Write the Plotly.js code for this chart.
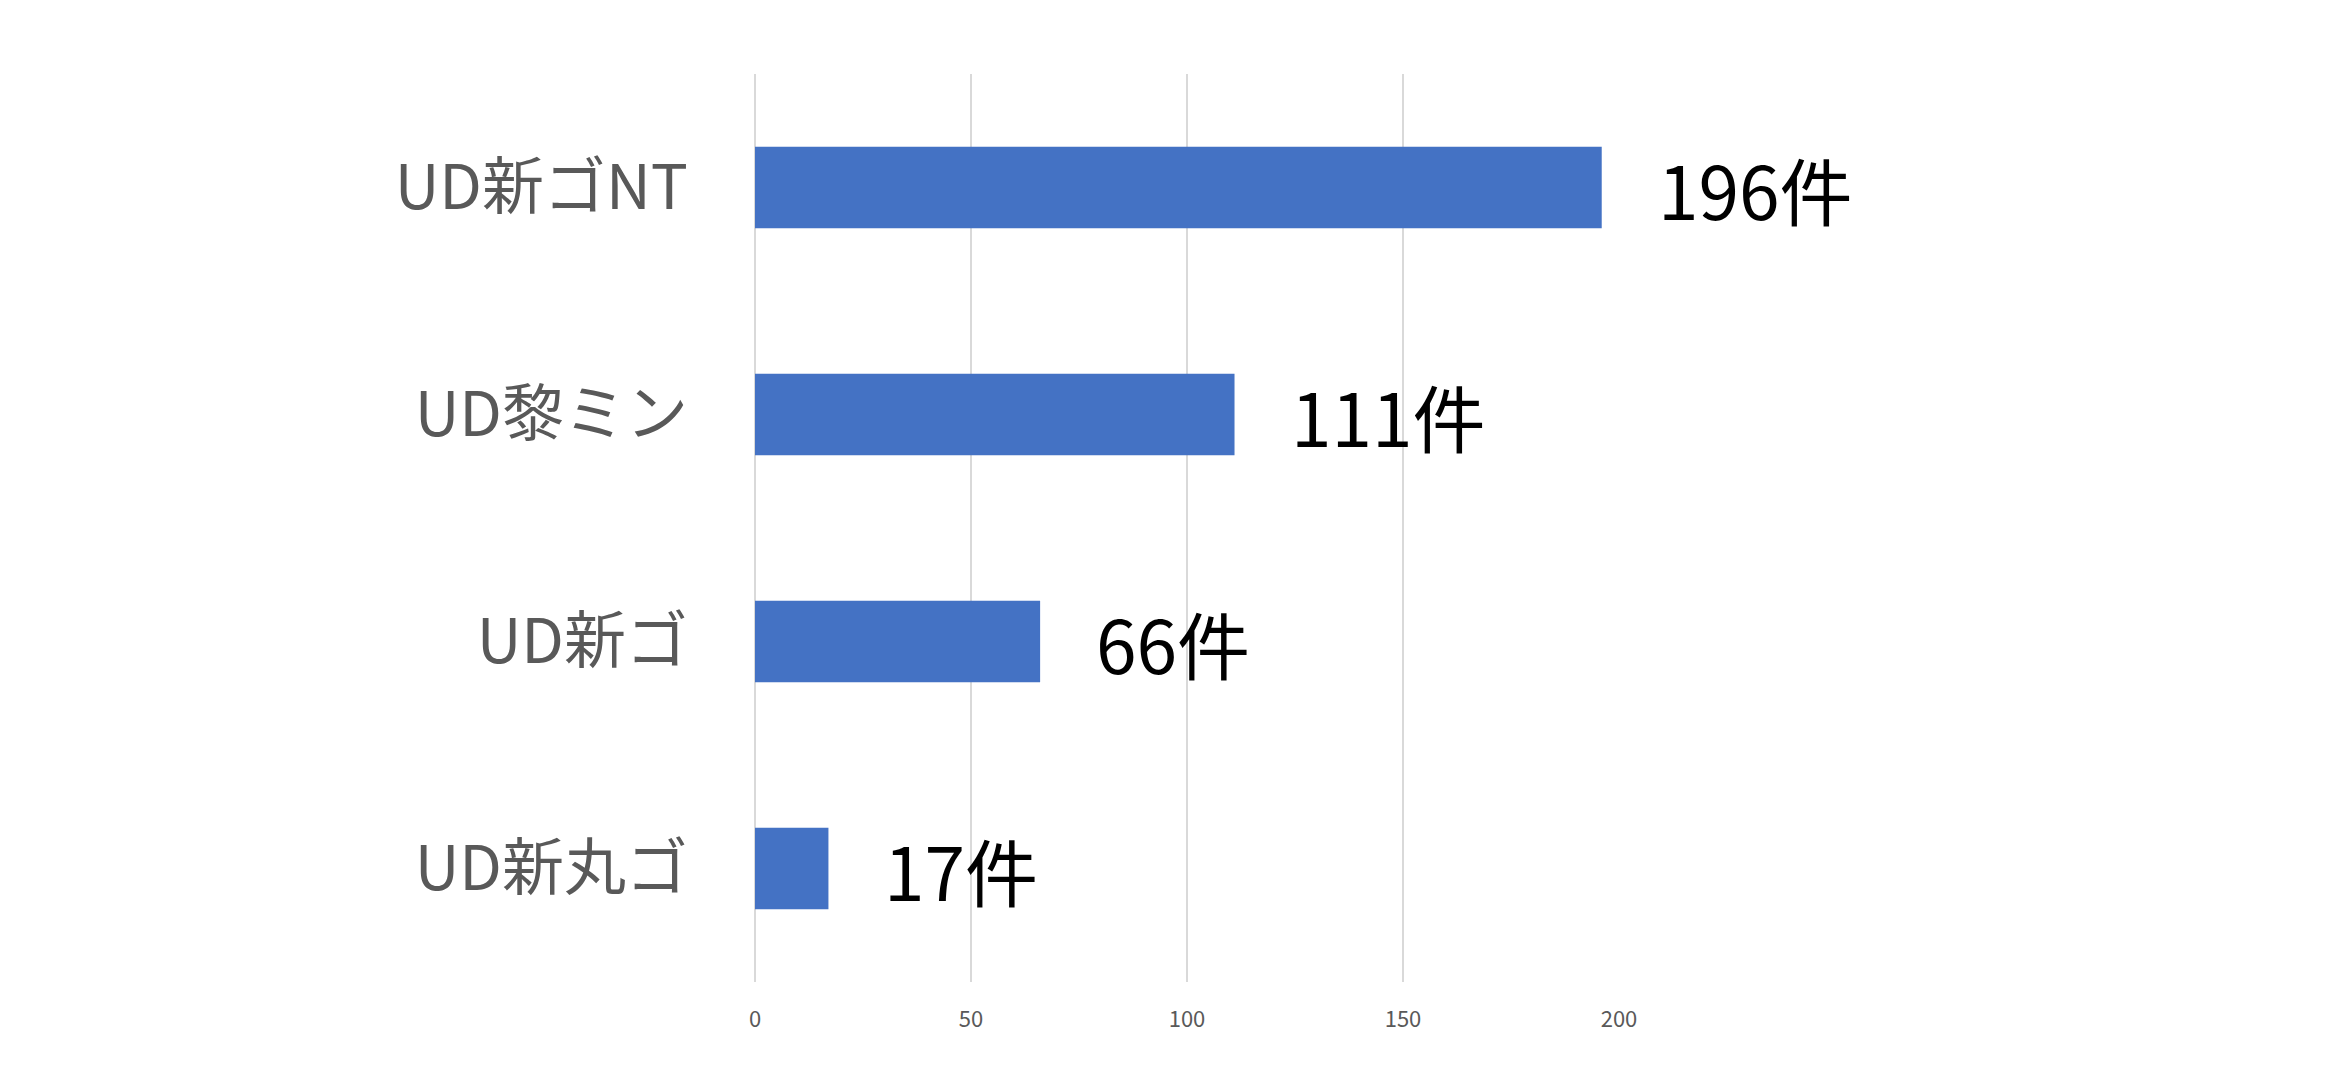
<!DOCTYPE html>
<html>
<head>
<meta charset="utf-8">
<script src="https://cdn.plot.ly/plotly-3.0.1.min.js"></script>
<style>
  html, body { margin: 0; padding: 0; background: #fff; }
  #chart { width: 2327px; height: 1086px; }
</style>
</head>
<body>
<div id="chart"></div>
<script>
var fonts = ['UD新ゴNT', 'UD黎ミン', 'UD新ゴ', 'UD新丸ゴ'];
var counts = [196, 111, 66, 17];
var unit = '件';
var xTicks = [0, 50, 100, 150, 200];

var data = [{
  type: 'bar',
  orientation: 'h',
  x: counts,
  y: fonts,
  marker: {color: '#4472C4'},
  hoverinfo: 'none'
}];

// value labels to the right of each bar
var labels = counts.map(function(v, i) {
  return {
    x: v,
    y: fonts[i],
    text: v + unit,
    xanchor: 'left',
    xshift: 54,
    showarrow: false,
    font: {family: 'Noto Sans CJK JP', size: 73, color: '#000'}
  };
});

var layout = {
  width: 2327,
  height: 1086,
  margin: {l: 755, r: 708, t: 74, b: 104},
  paper_bgcolor: '#fff',
  plot_bgcolor: '#fff',
  showlegend: false,
  bargap: 0.64,
  xaxis: {
    range: [0, 200],
    tickvals: xTicks,
    showgrid: true,
    gridcolor: '#D9D9D9',
    gridwidth: 1.5,
    zeroline: true,
    zerolinecolor: '#D9D9D9',
    zerolinewidth: 1.5,
    showline: false,
    ticks: '',
    ticklabelstandoff: 22,
    tickfont: {family: 'Noto Sans CJK JP', size: 22, color: '#595959'}
  },
  yaxis: {
    type: 'category',
    autorange: 'reversed',
    showgrid: false,
    zeroline: false,
    showline: false,
    ticks: '',
    ticklabelstandoff: 66,
    tickfont: {family: 'Noto Sans CJK JP', size: 62, color: '#595959'}
  },
  annotations: labels
};

Plotly.newPlot('chart', data, layout, {displayModeBar: false, staticPlot: true});
</script>
</body>
</html>
